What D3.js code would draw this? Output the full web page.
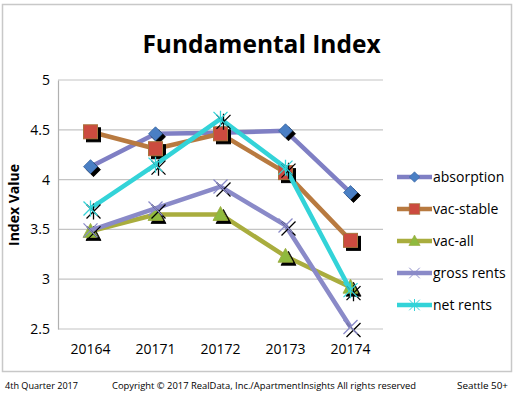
<!DOCTYPE html>
<html><head><meta charset="utf-8">
<script src="https://cdn.jsdelivr.net/npm/d3@7"></script>
<style>body{margin:0;background:#fff}svg{display:block}</style>
</head><body>
<svg id="c" width="515" height="399"></svg>
<script>
const categories = ["20164","20171","20172","20173","20174"];
const absorption = [4.13,4.46,4.47,4.49,3.87];
const vacStable = [4.48,4.31,4.46,4.07,3.39];
const vacAll = [3.48,3.65,3.65,3.23,2.92];
const grossRents = [3.49,3.71,3.93,3.54,2.52];
const netRents = [3.71,4.15,4.61,4.12,2.89];
const yTicks = [2.5,3,3.5,4,4.5,5];
const seriesNames = ["absorption","vac-stable","vac-all","gross rents","net rents"];

const series = [
  {name:seriesNames[0], values:absorption, line:"#7f7fc4", fill:"#4a7fc4", stroke:"#3a66a0", marker:"diamond"},
  {name:seriesNames[1], values:vacStable, line:"#b87a40", fill:"#cc4b3f", stroke:"#a8743c", marker:"square"},
  {name:seriesNames[2], values:vacAll, line:"#a9ad3e", fill:"#8fba3e", stroke:"#9aa83c", marker:"triangle"},
  {name:seriesNames[3], values:grossRents, line:"#8a8ac8", fill:"none", stroke:"#8a8ac8", marker:"x"},
  {name:seriesNames[4], values:netRents, line:"#33d3d8", fill:"none", stroke:"#33d3d8", marker:"star"}
];

const svg = d3.select("#c");
const font = "'Open Sans', sans-serif";

// outer border
svg.append("rect").attr("x",2.5).attr("y",4.5).attr("width",509).attr("height",367)
  .attr("fill","#fff").attr("stroke","#c8c8c8").attr("stroke-width",1.5);

const x = d3.scaleBand().domain(categories).range([58,383]);
const y = d3.scaleLinear().domain([2.5,5]).range([329,80]);

// grid
svg.append("g").selectAll("line").data(yTicks).join("line")
  .attr("x1",58).attr("x2",383).attr("y1",d=>y(d)).attr("y2",d=>y(d))
  .attr("stroke","#c4c4c4").attr("stroke-width",1.2);

const yAxis = svg.append("g").attr("transform","translate(58,0)")
  .call(d3.axisLeft(y).tickValues(yTicks).tickSize(0).tickPadding(8).tickFormat(d3.format("")));
yAxis.select(".domain").attr("stroke","#b0b0b0").attr("stroke-width",1.2);
yAxis.selectAll("text").attr("font-family",font).attr("font-size",14).attr("fill","#000");

const xAxis = svg.append("g").attr("transform","translate(0,329)")
  .call(d3.axisBottom(x).tickSize(0).tickPadding(15));
xAxis.select(".domain").remove();
xAxis.selectAll("text").attr("font-family",font).attr("font-size",14).attr("fill","#000");

svg.append("text").attr("transform","translate(19,205) rotate(-90)")
  .attr("text-anchor","middle").attr("font-family",font).attr("font-weight","bold")
  .attr("font-size",14).text("Index Value");

svg.append("text").attr("x",261.5).attr("y",53).attr("text-anchor","middle")
  .attr("font-family",font).attr("font-weight","bold").attr("font-size",24.5)
  .text("Fundamental Index");

function drawMarker(g, type, s, shadow){
  const col = shadow ? "#000" : s.fill;
  const st = shadow ? "#000" : s.stroke;
  if(type==="diamond"){
    g.append("path").attr("d","M0,-7L7,0L0,7L-7,0Z").attr("fill",col).attr("stroke",st).attr("stroke-width",0.8);
  } else if(type==="square"){
    g.append("rect").attr("x",-7).attr("y",-7).attr("width",14).attr("height",14).attr("fill",col).attr("stroke",st).attr("stroke-width",1);
  } else if(type==="triangle"){
    g.append("path").attr("d","M0,-8L7.5,6L-7.5,6Z").attr("fill",col).attr("stroke",st).attr("stroke-width",0.8);
  } else if(type==="x"){
    g.append("path").attr("d","M-7,-7L7,7M-7,7L7,-7").attr("stroke",shadow?"#000":s.stroke).attr("stroke-width",1.3);
  } else if(type==="star"){
    g.append("path").attr("d","M-7,-7L7,7M-7,7L7,-7M0,-8L0,8").attr("stroke",shadow?"#000":s.stroke).attr("stroke-width",1.3);
  }
}

const line = d3.line().x((d,i)=>x(categories[i])+x.bandwidth()/2).y(d=>y(d));

series.forEach(s=>{
  const g = svg.append("g");
  g.append("path").attr("d",line(s.values)).attr("fill","none").attr("stroke",s.line)
    .attr("stroke-width",4.5).attr("stroke-linejoin","round");
  s.values.forEach((v,i)=>{
    const cx = x(categories[i])+x.bandwidth()/2, cy=y(v);
    drawMarker(g.append("g").attr("transform",`translate(${cx+3},${cy+3})`), s.marker, s, true);
    drawMarker(g.append("g").attr("transform",`translate(${cx},${cy})`), s.marker, s, false);
  });
});

// legend
const leg = svg.append("g");
series.forEach((s,i)=>{
  const ly = 177 + i*32;
  leg.append("line").attr("x1",397).attr("x2",432).attr("y1",ly).attr("y2",ly)
    .attr("stroke",s.line).attr("stroke-width",4.5);
  const mg = leg.append("g").attr("transform",`translate(414.5,${ly}) scale(0.75)`);
  drawMarker(mg, s.marker, s, false);
  leg.append("text").attr("x",433).attr("y",ly+5).attr("font-family",font)
    .attr("font-size",14).text(s.name);
});

// footer
const ff = "'Open Sans', sans-serif";
function foot(xp, w, t){
  svg.append("text").attr("x",xp).attr("y",389).attr("font-family",ff).attr("font-size",9.5)
    .attr("textLength",w).attr("lengthAdjust","spacingAndGlyphs").text(t);
}
foot(5,73,"4th Quarter 2017");
foot(112,304,"Copyright © 2017 RealData, Inc./ApartmentInsights All rights reserved");
foot(457,51,"Seattle 50+");
</script>
</body></html>
